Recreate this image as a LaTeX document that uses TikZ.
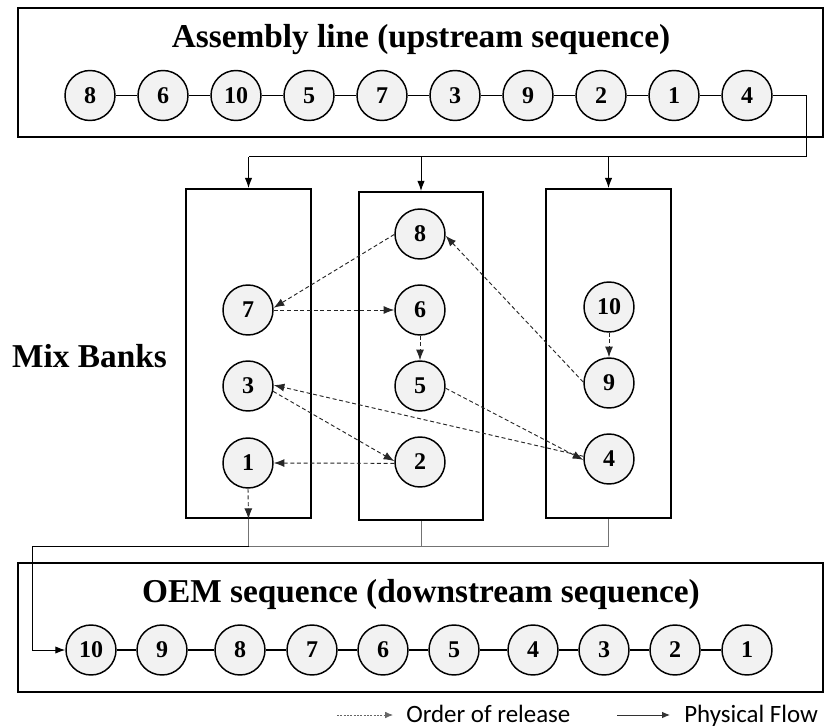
\documentclass[tikz,border=0pt]{standalone}
\usepackage{fontspec}
\setmainfont{Liberation Serif}
\newfontfamily\legendfont{Carlito}
\usetikzlibrary{arrows.meta}
\definecolor{cfill}{HTML}{F2F2F2}
\begin{document}
\begin{tikzpicture}[x=0.75pt,y=-0.75pt,
  num/.style={circle,draw=black,line width=1.1pt,fill=cfill,minimum size=37.5pt,inner sep=0pt,font=\fontsize{18}{18}\selectfont\bfseries},
  frame/.style={draw=black,line width=1.5pt,inner sep=0pt,minimum width=603.75pt,minimum height=96.75pt},
  bank/.style={draw=black,line width=1.5pt,inner sep=0pt,minimum width=93.75pt,minimum height=246.75pt},
  chain/.style={draw=black,line width=0.9pt},
  flow/.style={draw=black,line width=0.75pt},
  gflow/.style={draw=black!55,line width=0.75pt},
  flowarr/.style={flow,-{Latex[length=7.5pt,width=5.5pt]}},
  rel/.style={draw=black!85,line width=0.7pt,dash pattern=on 3pt off 2pt,-{Latex[length=8pt,width=6pt]}},
  legrel/.style={draw=black!60,line width=0.6pt,dash pattern=on 1.5pt off 1pt,-{Latex[length=6pt,width=5pt]}},
  legflow/.style={draw=black!80,line width=0.75pt,-{Latex[length=6pt,width=5pt]}},
  ttl/.style={font=\fontsize{25}{30}\selectfont\bfseries,inner sep=0pt,anchor=base},
  leg/.style={font=\legendfont\fontsize{18.7}{22}\selectfont,inner sep=0pt,anchor=base west}
]
\useasboundingbox (0,0) rectangle (824,727);

% frames
\node[frame] (top) at (420.5,72.5) {};
\node[frame] (bot) at (420.5,627.5) {};
\node[ttl] (ttop) at (421,48) {Assembly line (upstream sequence)};
\node[ttl] (tbot) at (421,602) {OEM sequence (downstream sequence)};
\node[ttl] (mix) at (89.5,367) {Mix Banks};

% upstream row
\foreach \n/\x in {8/90,6/163,10/236,5/309,7/382,3/455,9/528,2/601,1/674,4/747}
  \node[num] (t\n) at (\x,95.5) {\n};
\foreach \a/\b in {8/6,6/10,10/5,5/7,7/3,3/9,9/2,2/1,1/4}
  \draw[chain] (t\a) -- (t\b);

% downstream row
\foreach \n/\x in {10/91,9/162,8/240,7/312,6/383,5/454,4/533,3/604,2/675,1/747}
  \node[num] (o\n) at (\x,650) {\n};
\foreach \a/\b in {10/9,9/8,8/7,7/6,6/5,5/4,4/3,3/2,2/1}
  \draw[chain] (o\a) -- (o\b);

% banks
\node[bank] (lb) at (248.5,353.5) {};
\node[bank,minimum width=93pt,minimum height=246pt] (mb) at (421,356) {};
\node[bank] (rb) at (608.5,353.5) {};

% bank contents
\node[num] (b7) at (248,310) {7};
\node[num] (b3) at (248,386) {3};
\node[num] (b1) at (248,463) {1};
\node[num] (b8) at (420,234) {8};
\node[num] (b6) at (420,310) {6};
\node[num] (b5) at (420,386) {5};
\node[num] (b2) at (420,462) {2};
\node[num] (b10) at (609,307) {10};
\node[num] (b9) at (609,383) {9};
\node[num] (b4) at (609,459) {4};

% physical flow top
\coordinate (c1) at (806,157);
\coordinate (sp) at (248.5,157);
\draw[flow] (t4.east) -| (c1) -- (sp);
\draw[flowarr] (sp) -- (lb.north);
\draw[flowarr] (mb.north |- c1) -- (mb.north);
\draw[flowarr] (rb.north |- c1) -- (rb.north);

% physical flow bottom
\coordinate (d1) at (32,546);
\draw[gflow] (lb.south) -- (lb.south |- d1);
\draw[gflow] (mb.south) -- (mb.south |- d1);
\draw[gflow] (rb.south) -- (rb.south |- d1);
\draw[gflow] (rb.south |- d1) -- (lb.south |- d1);
\draw[flowarr] (lb.south |- d1) -- (d1) |- (o10.west);

% order of release
\draw[rel] (b10.south) -- (b9.north);
\draw[rel] (b9.178) -- (b8.-4);
\draw[rel] (b8.181) -- (b7.5);
\draw[rel] (b7.east) -- (b6.west);
\draw[rel] (b6.south) -- (b5.north);
\draw[rel] (b5.-5) -- (b4.182);
\draw[rel] (b4.174) -- (b3.2);
\draw[rel] (b3.-12) -- (b2.178);
\draw[rel] (b2.183) -- (b1.east);
\draw[rel] (b1.south) -- (lb.south);

% legend
\coordinate (l1) at (337,715);
\coordinate (l2) at (393,715);
\coordinate (l3) at (617,715);
\coordinate (l4) at (670,715);
\draw[legrel] (l1) -- (l2);
\node[leg] (lt1) at (406,722.5) {Order of release};
\draw[legflow] (l3) -- (l4);
\node[leg] (lt2) at (684,722.5) {Physical Flow};
\end{tikzpicture}
\end{document}
